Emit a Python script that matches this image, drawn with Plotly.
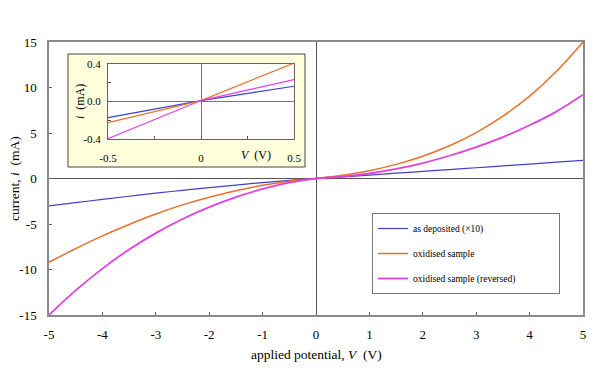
import plotly.graph_objects as go

# ---- data ----
V = [-5, -4.5, -4, -3.5, -3, -2.5, -2, -1.5, -1, -0.5, 0, 0.5, 1, 1.5, 2, 2.5, 3, 3.5, 4, 4.5, 5]
as_deposited_x10 = [-3.0, -2.65, -2.3, -1.95, -1.6, -1.3, -1.0, -0.72, -0.45, -0.2, 0.0,
                    0.18, 0.38, 0.58, 0.78, 0.98, 1.18, 1.38, 1.58, 1.79, 2.0]
oxidised = [-9.2, -7.7, -6.3, -5.05, -3.9, -2.9, -2.05, -1.35, -0.75, -0.3, 0.0,
            0.35, 0.85, 1.55, 2.45, 3.6, 5.05, 6.85, 9.05, 11.75, 15.0]
oxidised_rev = [-15.0, -12.3, -9.9, -7.8, -6.0, -4.45, -3.15, -2.05, -1.15, -0.45, 0.0,
                0.2, 0.55, 1.05, 1.7, 2.5, 3.45, 4.55, 5.85, 7.35, 9.2]

V_in = [-0.5, 0.0, 0.5]
in_as_dep = [-0.173, 0.01, 0.163]
in_oxid = [-0.226, 0.01, 0.41]
in_rev = [-0.396, 0.01, 0.234]

x_ticks = [-5, -4, -3, -2, -1, 0, 1, 2, 3, 4, 5]
x_text = ["-5", "-4", "-3", "-2", "-1", "0", "1", "2", "3", "4", "5"]
y_ticks = [-15, -10, -5, 0, 5, 10, 15]
y_text = ["-15", "-10", "-5", "0", "5", "10", "15"]
in_x_ticks = [-0.5, -0.25, 0, 0.25, 0.5]
in_x_text = ["-0.5", "", "0", "", "0.5"]
in_y_ticks = [-0.4, -0.2, 0.0, 0.2, 0.4]
in_y_text = ["-0.4", "", "0.0", "", "0.4"]

names = ["as deposited (\u00d710)", "oxidised sample",
         "oxidised sample (reversed)" + "\u00a0" * 16]
colors = ["#4040C8", "#E8702A", "#E040E0"]
widths = [1.2, 1.5, 1.8]

FONT = "Liberation Serif"

fig = go.Figure()
for i, ys in enumerate([as_deposited_x10, oxidised, oxidised_rev]):
    fig.add_trace(go.Scatter(x=V, y=ys, mode="lines", name=names[i],
                             line=dict(color=colors[i], width=widths[i], shape="spline",
                                       smoothing=1.0),
                             legendgroup=f"g{i}", xaxis="x", yaxis="y"))
for i, ys in enumerate([in_as_dep, in_oxid, in_rev]):
    fig.add_trace(go.Scatter(x=V_in, y=ys, mode="lines", showlegend=False,
                             line=dict(color=colors[i], width=1.2),
                             xaxis="x2", yaxis="y2"))

L, R, T, B = 49, 24, 42, 58
W, H = 607, 373
pw, ph = W - L - R, H - T - B

def px(xp):
    return (xp - L) / pw

def py(yp):
    return (H - B - yp) / ph

tf_main = dict(family=FONT, size=13, color="black")
tf_in = dict(family=FONT, size=11, color="black")

def ann(text, x, y, size, angle=0):
    return dict(text=text, xref="paper", yref="paper", x=px(x), y=py(y),
                xanchor="center", yanchor="middle", showarrow=False,
                textangle=angle, font=dict(size=size, family=FONT, color="black"))

fig.update_layout(
    width=W, height=H,
    margin=dict(l=L, r=R, t=T, b=B, autoexpand=False),
    paper_bgcolor="white", plot_bgcolor="white",
    font=dict(family=FONT, color="black", size=13),
    xaxis=dict(range=[-5, 5], tickvals=x_ticks, ticktext=x_text, ticks="inside", ticklen=3,
               tickcolor="#666", showline=True, mirror=True, linecolor="#8a8a8a",
               linewidth=1.5, showgrid=False, zeroline=True, zerolinecolor="#5a5050",
               zerolinewidth=1.2, ticklabelstandoff=7, tickfont=tf_main, automargin=False),
    yaxis=dict(range=[-15, 15], tickvals=y_ticks, ticktext=y_text, ticks="inside", ticklen=3,
               tickcolor="#666", showline=True, mirror=True, linecolor="#8a8a8a",
               linewidth=1.5, showgrid=False, zeroline=True, zerolinecolor="#5a5050",
               zerolinewidth=1.2, ticklabelstandoff=8, tickfont=tf_main, automargin=False),
    xaxis2=dict(domain=[px(108), px(294)], anchor="y2", range=[-0.5, 0.5],
                tickvals=in_x_ticks, ticktext=in_x_text, ticks="inside", ticklen=3,
                tickcolor="#555", showline=True, mirror=True, linecolor="#666",
                linewidth=1, showgrid=False, zeroline=True, zerolinecolor="#777",
                zerolinewidth=1.2, ticklabelstandoff=9, tickfont=tf_in, automargin=False),
    yaxis2=dict(domain=[py(139), py(64)], anchor="x2", range=[-0.4, 0.4],
                tickvals=in_y_ticks, ticktext=in_y_text, ticks="inside", ticklen=3,
                tickcolor="#555", showline=True, mirror=True, linecolor="#666",
                linewidth=1, showgrid=False, zeroline=True, zerolinecolor="#777",
                zerolinewidth=1.2, ticklabelstandoff=4, tickfont=tf_in, automargin=False),
    legend=dict(x=px(372), y=py(213), xanchor="left", yanchor="top",
                bgcolor="white", bordercolor="#777", borderwidth=1,
                font=dict(size=9.5, family=FONT), tracegroupgap=6,
                itemwidth=30),
    shapes=[
        dict(type="rect", xref="paper", yref="paper", x0=px(68), x1=px(305),
             y0=py(167), y1=py(54), fillcolor="#FFFFDC", line=dict(color="#444", width=1),
             layer="below"),
        dict(type="rect", xref="paper", yref="paper", x0=px(108), x1=px(294),
             y0=py(139), y1=py(64), fillcolor="white", line=dict(width=0),
             layer="below"),
    ],
    annotations=[
        ann("applied potential, <i>V</i>  (V)", 316, 354, 13.5),
        ann("current, <i>i</i>  (mA)", 14, 179, 13.5, -90),
        ann("<i>V</i>  (V)", 256, 155, 12),
        ann("<i>i</i>  (mA)", 80, 102, 12, -90),
    ],
)

fig.write_html("out.html", config={"displayModeBar": False},
               post_script="document.body.style.margin='0px';document.body.style.overflow='hidden';")
